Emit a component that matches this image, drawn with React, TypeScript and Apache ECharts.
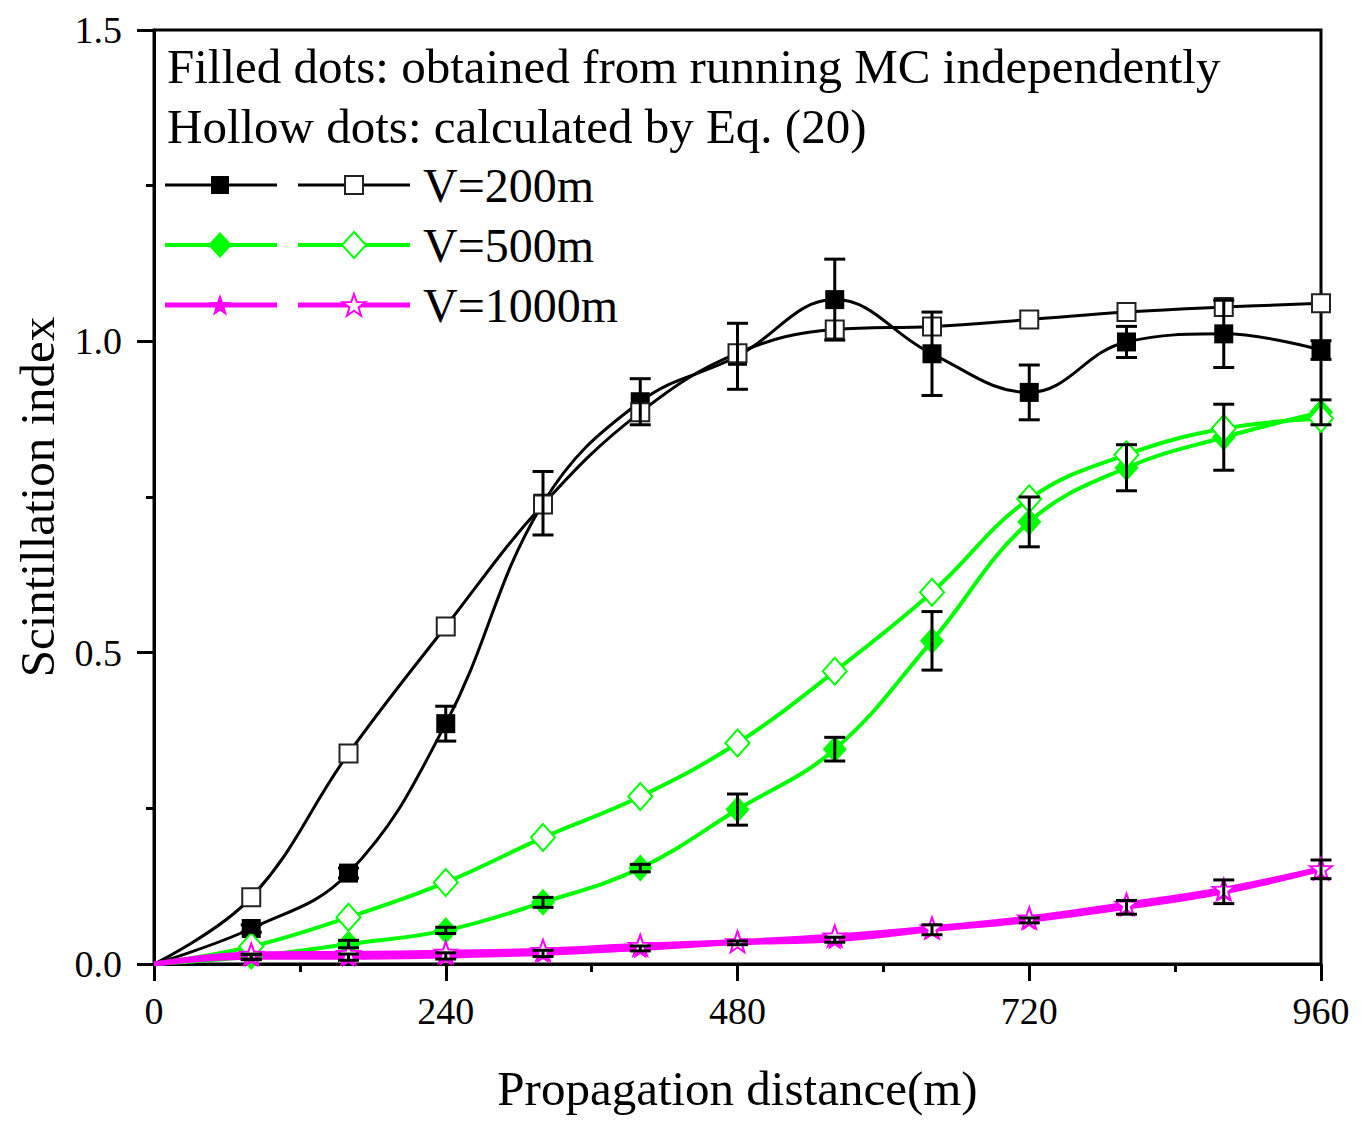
import React, { useEffect, useRef } from 'react';
import * as echarts from 'echarts';

// propagation distance (m)
const xs = [0, 80, 160, 240, 320, 400, 480, 560, 640, 720, 800, 880, 960];

// V=200m
const mc200 = [0, 0.057, 0.146, 0.386, 0.740, 0.903, 0.976, 1.067, 0.980, 0.918, 0.999, 1.012, 0.986];
const err200 = [0, 0.006, 0.008, 0.028, 0.051, 0.037, 0.053, 0.065, 0.067, 0.044, 0.025, 0.054, 0.015];
const eq200 = [0, 0.107, 0.338, 0.542, 0.738, 0.886, 0.981, 1.019, 1.024, 1.035, 1.047, 1.055, 1.061];

// V=500m
const mc500 = [0, 0.012, 0.032, 0.054, 0.099, 0.154, 0.248, 0.345, 0.519, 0.710, 0.797, 0.846, 0.886];
const err500 = [0, 0.004, 0.006, 0.005, 0.008, 0.006, 0.025, 0.019, 0.047, 0.040, 0.037, 0.053, 0.020];
const eq500 = [0, 0.028, 0.075, 0.131, 0.203, 0.269, 0.355, 0.470, 0.597, 0.747, 0.818, 0.860, 0.876];

// V=1000m
const mc1000 = [0, 0.011, 0.011, 0.013, 0.017, 0.025, 0.034, 0.039, 0.055, 0.070, 0.091, 0.116, 0.152];
const err1000 = [0, 0.004, 0.005, 0.005, 0.005, 0.004, 0.003, 0.004, 0.008, 0.004, 0.011, 0.019, 0.015];
const eq1000 = [0, 0.016, 0.017, 0.019, 0.022, 0.030, 0.036, 0.045, 0.058, 0.074, 0.096, 0.120, 0.153];

const legendNames = ['V=200m', 'V=500m', 'V=1000m'];
const noteLines = [
	'Filled dots: obtained from running MC independently',
	'Hollow dots: calculated by Eq. (20)',
];

const BLACK = '#000000';
const GREEN = '#00ff00';
const MAGENTA = '#ff00ff';
const FONT = "'Liberation Serif', 'Times New Roman', serif";

const STAR = 'path://M0,-10L2.35,-3.24L9.51,-3.09L3.8,1.24L5.88,8.09L0,4L-5.88,8.09L-3.8,1.24L-9.51,-3.09L-2.35,-3.24Z';

const starPoints = (cx: number, cy: number, r: number) => {
	const pts: number[][] = [];
	for (let i = 0; i < 10; i++) {
		const rr = i % 2 === 0 ? r : r * 0.4;
		const a = -Math.PI / 2 + (i * Math.PI) / 5;
		pts.push([cx + rr * Math.cos(a), cy + rr * Math.sin(a)]);
	}
	return pts;
};

const pts = (ys: number[]) =>
	xs.map((x, i) => (i === 0 ? { value: [x, ys[i]], symbol: 'none' } : { value: [x, ys[i]] }));

const App: React.FC = () => {
	const chartRef = useRef<HTMLDivElement | null>(null);

	useEffect(() => {
		document.body.style.margin = '0';
		if (!chartRef.current) return;
		const chart = echarts.init(chartRef.current, undefined, { renderer: 'svg' });

		const lineSeries = (ys: number[], color: string, width: number, symbol: string, size: any, hollow: boolean, z: number) => ({
			type: 'line',
			data: pts(ys),
			smooth: 0.4,
			symbol,
			symbolSize: size,
			showSymbol: true,
			z,
			lineStyle: { color, width },
			itemStyle: hollow
				? { color: '#ffffff', borderColor: color === BLACK ? '#222' : color, borderWidth: 2 }
				: { color, borderWidth: 0 },
		});

		const errData: number[][] = [];
		[[mc200, err200], [mc500, err500], [mc1000, err1000]].forEach(([m, e]) => {
			xs.forEach((x, i) => {
				if (i > 0) errData.push([x, m[i], e[i]]);
			});
		});

		const legendGraphics: any[] = [];
		const rows = [
			{ color: BLACK, w: 3, kind: 'square' },
			{ color: GREEN, w: 4, kind: 'diamond' },
			{ color: MAGENTA, w: 5, kind: 'star' },
		];
		rows.forEach((r, i) => {
			const y = 185 + i * 60;
			legendGraphics.push(
				{ type: 'line', shape: { x1: 165, y1: y, x2: 277, y2: y }, style: { stroke: r.color, lineWidth: r.w } },
				{ type: 'line', shape: { x1: 298, y1: y, x2: 410, y2: y }, style: { stroke: r.color, lineWidth: r.w } },
			);
			[220, 354].forEach((cx, j) => {
				const hollow = j === 1;
				const style = hollow
					? { fill: '#ffffff', stroke: r.color === BLACK ? '#222' : r.color, lineWidth: 2 }
					: { fill: r.color };
				if (r.kind === 'square') {
					legendGraphics.push({ type: 'rect', shape: { x: cx - 9, y: y - 9, width: 18, height: 18 }, style });
				} else if (r.kind === 'diamond') {
					legendGraphics.push({
						type: 'polygon',
						shape: { points: [[cx, y - 13], [cx + 12, y], [cx, y + 13], [cx - 12, y]] },
						style,
					});
				} else {
					legendGraphics.push({ type: 'polygon', shape: { points: starPoints(cx, y + 1, 12) }, style });
				}
			});
			legendGraphics.push({
				type: 'text',
				x: 423,
				y,
				style: { text: legendNames[i], font: `48px ${FONT}`, fill: '#000', textVerticalAlign: 'middle' },
			});
		});
		noteLines.forEach((t, i) => {
			legendGraphics.push({
				type: 'text',
				x: 167,
				y: 66 + i * 60,
				style: { text: t, font: `49px ${FONT}`, fill: '#000', textVerticalAlign: 'middle' },
			});
		});

		const option: any = {
			animation: false,
			backgroundColor: '#ffffff',
			grid: {
				left: 154,
				right: 40,
				top: 30,
				bottom: 167,
				show: true,
				borderColor: '#000',
				borderWidth: 3,
				backgroundColor: 'transparent',
			},
			xAxis: {
				type: 'value',
				min: 0,
				max: 960,
				interval: 240,
				name: 'Propagation distance(m)',
				nameLocation: 'middle',
				nameGap: 100,
				nameTextStyle: { fontFamily: FONT, fontSize: 49, color: '#000' },
				axisLine: { show: true, lineStyle: { color: '#000', width: 3 } },
				axisTick: { show: true, inside: false, length: 17, lineStyle: { color: '#000', width: 3 } },
				minorTick: { show: true, splitNumber: 2, length: 8, lineStyle: { color: '#000', width: 3 } },
				axisLabel: { fontFamily: FONT, fontSize: 38, color: '#000', margin: 28 },
				splitLine: { show: false },
			},
			yAxis: {
				type: 'value',
				min: 0,
				max: 1.5,
				interval: 0.5,
				name: 'Scintillation index',
				nameLocation: 'middle',
				nameGap: 92,
				nameTextStyle: { fontFamily: FONT, fontSize: 49, color: '#000' },
				axisLine: { show: true, lineStyle: { color: '#000', width: 3 } },
				axisTick: { show: true, inside: false, length: 17, lineStyle: { color: '#000', width: 3 } },
				minorTick: { show: true, splitNumber: 2, length: 8, lineStyle: { color: '#000', width: 3 } },
				axisLabel: {
					fontFamily: FONT,
					fontSize: 38,
					color: '#000',
					margin: 32,
					formatter: (v: number) => v.toFixed(1),
				},
				splitLine: { show: false },
			},
			series: [
				lineSeries(mc200, BLACK, 3, 'rect', 19, false, 3),
				lineSeries(mc500, GREEN, 4, 'diamond', [24, 27], false, 3),
				lineSeries(mc1000, MAGENTA, 5, STAR, [21, 20], false, 3),
				lineSeries(eq200, BLACK, 3, 'rect', 18, true, 4),
				lineSeries(eq500, GREEN, 4, 'diamond', [24, 27], true, 4),
				lineSeries(eq1000, MAGENTA, 5, STAR, [22, 21], true, 4),
				{
					type: 'custom',
					z: 6,
					data: errData,
					renderItem: (params: any, api: any) => {
						const x = api.value(0);
						const y = api.value(1);
						const e = api.value(2);
						const top = api.coord([x, y + e]);
						const bot = api.coord([x, y - e]);
						const hw = 10.5;
						const s = { stroke: '#000', lineWidth: 3 };
						return {
							type: 'group',
							children: [
								{ type: 'line', shape: { x1: top[0], y1: top[1], x2: bot[0], y2: bot[1] }, style: s },
								{ type: 'line', shape: { x1: top[0] - hw, y1: top[1], x2: top[0] + hw, y2: top[1] }, style: s },
								{ type: 'line', shape: { x1: bot[0] - hw, y1: bot[1], x2: bot[0] + hw, y2: bot[1] }, style: s },
							],
						};
					},
				},
			],
			graphic: legendGraphics,
		};

		chart.setOption(option);
		return () => {
			chart.dispose();
		};
	}, []);

	return <div ref={chartRef} style={{ width: '1361px', height: '1131px' }} />;
};

export default App;
